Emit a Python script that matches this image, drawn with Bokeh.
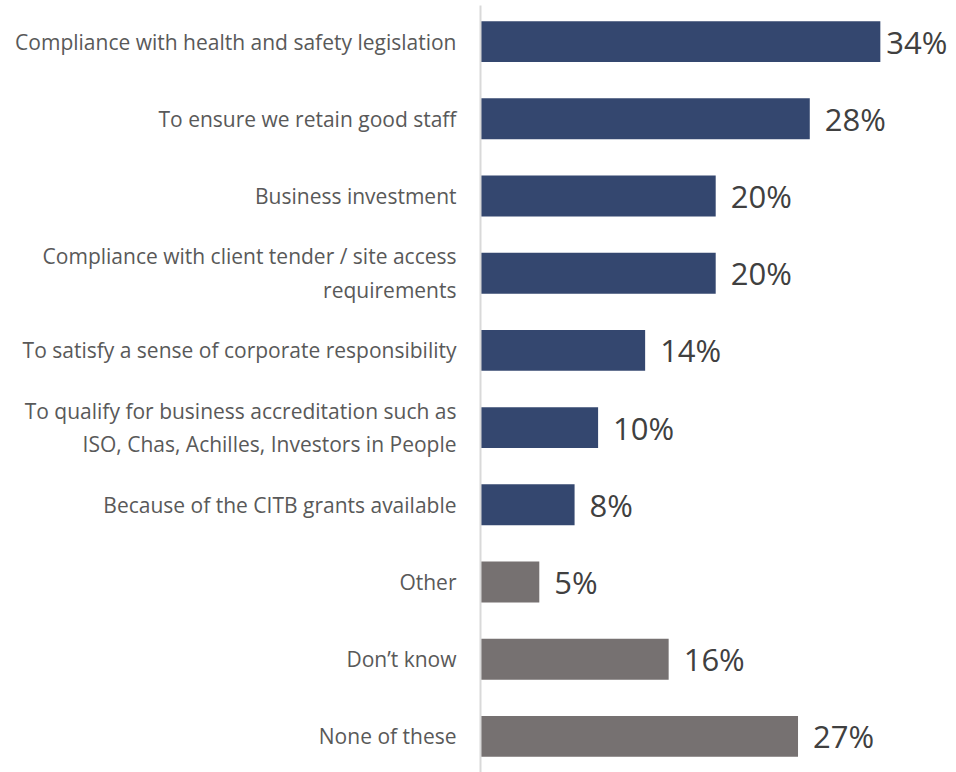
from bokeh.plotting import figure
from bokeh.models import ColumnDataSource, FactorRange
from bokeh.core.properties import value
from bokeh.embed import file_html
from bokeh.resources import INLINE

categories = [
    "Compliance with health and safety legislation",
    "To ensure we retain good staff",
    "Business investment",
    "Compliance with client tender / site access\nrequirements",
    "To satisfy a sense of corporate responsibility",
    "To qualify for business accreditation such as\nISO, Chas, Achilles, Investors in People",
    "Because of the CITB grants available",
    "Other",
    "Don\u2019t know",
    "None of these",
]
values = [34, 28, 20, 20, 14, 10, 8, 5, 16, 27]
value_labels = ["34%", "28%", "20%", "20%", "14%", "10%", "8%", "5%", "16%", "27%"]
groups = ["main"] * 7 + ["other"] * 3

NAVY = "#34476F"
GREY = "#767171"
colors = [NAVY if g == "main" else GREY for g in groups]
offsets = [6 if v == max(values) else 15 for v in values]

src = ColumnDataSource(dict(cat=categories, val=values, lab=value_labels,
                            color=colors, off=offsets))

W, H = 956, 772
LEFT = 480
TOP = 5
y_range = FactorRange(factors=list(reversed(categories)), range_padding=-0.032,
                      range_padding_units="absolute")
p = figure(width=W, height=H, y_range=y_range, x_range=(0, (W - LEFT) / 11.76),
           output_backend="svg", toolbar_location=None,
           min_border_left=LEFT, min_border_right=0, min_border_top=TOP,
           min_border_bottom=0)

p.hbar(y="cat", left=0, right="val", height=0.53, fill_color="color",
       line_color=None, source=src)
p.text(x="val", y="cat", text="lab", x_offset="off", source=src,
       text_baseline="middle", text_align="left",
       text_font=value("Open Sans"), text_font_size="31px", text_color="#404040")

p.xaxis.visible = False
p.xgrid.grid_line_color = None
p.ygrid.grid_line_color = None
p.outline_line_color = None
p.yaxis.axis_line_color = "#D9D9D9"
p.yaxis.axis_line_width = 2
p.yaxis.major_tick_line_color = None
p.yaxis.minor_tick_line_color = None
p.yaxis.major_label_standoff = 18
p.yaxis.major_label_text_font = "Open Sans"
p.yaxis.major_label_text_font_size = "21px"
p.yaxis.major_label_text_color = "#595959"

open("out.html", "w").write(file_html(p, INLINE))
